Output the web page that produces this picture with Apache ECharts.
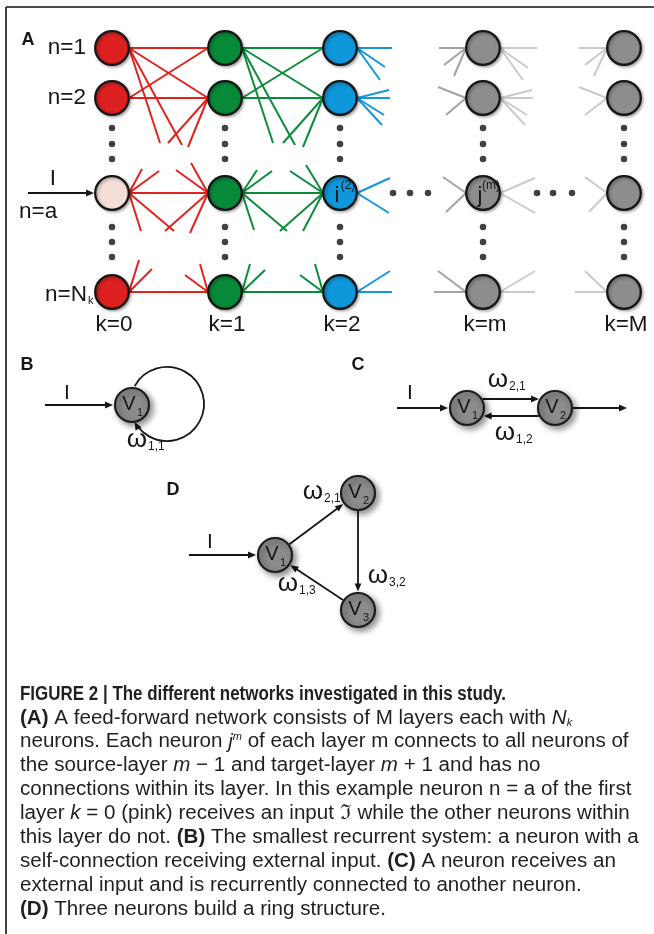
<!DOCTYPE html>
<html><head><meta charset="utf-8">
<script src="https://cdn.jsdelivr.net/npm/echarts@6/dist/echarts.min.js"></script>
<style>html,body{margin:0;padding:0;background:#fff;}#chart{width:654px;height:934px;}</style>
</head><body><div id="chart"></div>
<script>
// ================= DATA =================
// Panel A : layered feed-forward network
const layerLabels = ['k=0', 'k=1', 'k=2', 'k=m', 'k=M'];
const layerX = [112, 225, 340, 483, 624];
const rowLabels = ['n=1', 'n=2', 'n=a', 'n=N'];
const rowY = [48, 98, 193, 292];
const inputRow = 2;                              // n=a receives the input
const ellipsisY = [128, 144, 159, 227, 242, 257]; // vertical dots in every layer
const ellipsisX = [393, 410, 428, 537, 553, 572]; // horizontal dots on row n=a
// complete connections [fromLayer, fromRow, toLayer, toRow]
const links = [
  [0,0,1,0],[0,0,1,1],[0,1,1,0],[0,1,1,1],[0,2,1,2],[0,3,1,3],
  [1,0,2,0],[1,0,2,1],[1,1,2,0],[1,1,2,1],[1,2,2,2],[1,3,2,3]
];
// truncated connections [layer, row, side(+1 right,-1 left), dx, dy]
const stubs = [
  [0,0,1,31,95],[0,0,1,53,97],
  [0,2,1,13,-24],[0,2,1,30,-22],[0,2,1,12,38],[0,2,1,45,38],
  [0,3,1,10,-32],[0,3,1,23,-23],
  [1,1,-1,-40,45],[1,1,-1,-20,49],
  [1,2,-1,-32,-23],[1,2,-1,-17,-30],[1,2,-1,-43,38],[1,2,-1,-18,40],
  [1,3,-1,-23,-17],[1,3,-1,-8,-28],
  [1,0,1,31,95],[1,0,1,53,97],
  [1,2,1,15,-23],[1,2,1,30,-22],[1,2,1,12,37],[1,2,1,45,38],
  [1,3,1,8,-28],[1,3,1,23,-22],
  [2,1,-1,-40,45],[2,1,-1,-20,49],
  [2,2,-1,-33,-22],[2,2,-1,-17,-28],[2,2,-1,-43,38],[2,2,-1,-20,38],
  [2,3,-1,-23,-17],[2,3,-1,-8,-28],
  [2,0,1,35,0],[2,0,1,28,19],[2,0,1,23,32],
  [2,1,1,32,-8],[2,1,1,33,0],[2,1,1,27,17],[2,1,1,25,27],
  [2,2,1,33,-15],[2,2,1,32,20],
  [2,3,1,33,-21],[2,3,1,35,0],
  [3,0,-1,-27,0],[3,0,-1,-22,17],[3,0,-1,-12,28],
  [3,1,-1,-28,-11],[3,1,-1,-20,17],
  [3,2,-1,-23,-16],[3,2,-1,-20,19],
  [3,3,-1,-28,-21],[3,3,-1,-32,0],
  [3,0,1,37,0],[3,0,1,28,20],[3,0,1,23,32],
  [3,1,1,32,-8],[3,1,1,33,0],[3,1,1,27,17],[3,1,1,25,27],
  [3,2,1,35,-15],[3,2,1,35,20],
  [3,3,1,35,-21],[3,3,1,35,0],
  [4,0,-1,-28,0],[4,0,-1,-22,17],[4,0,-1,-13,28],
  [4,1,-1,-28,-11],[4,1,-1,-22,17],
  [4,2,-1,-22,-16],[4,2,-1,-18,19],
  [4,3,-1,-22,-21],[4,3,-1,-32,0]
];
const nodeNames = [[2, 2, 'i', '(2)'], [3, 2, 'j', '(m)']];

// Panels B, C, D : recurrent systems  [x, y, index]
const nodesB = [[132, 405, '1']];
const nodesC = [[467, 408, '1'], [555, 408, '2']];
const nodesD = [[275, 555, '1'], [358, 493, '2'], [358, 610, '3']];
const edgesC = [[0, 1, -9], [1, 0, -8]];         // [from, to, parallel offset]
const edgesD = [[0, 1, 0], [1, 2, 0], [2, 0, 0]];
const weightsB = ['1,1'];
const weightsC = ['2,1', '1,2'];
const weightsD = ['2,1', '3,2', '1,3'];

// Caption
const captionTitle = 'FIGURE 2 | The different networks investigated in this study.';
const captionLines = [
  '{b|(A)} A feed-forward network consists of M layers each with {i|N}{is|k}',
  'neurons. Each neuron {i|j}{isup|m} of each layer m connects to all neurons of',
  'the source-layer {i|m} \u2212 1 and target-layer {i|m} + 1 and has no',
  'connections within its layer. In this example neuron n = a of the first',
  'layer {i|k} = 0 (pink) receives an input \u2111 while the other neurons within',
  'this layer do not. {b|(B)} The smallest recurrent system: a neuron with a',
  'self-connection receiving external input. {b|(C)} A neuron receives an',
  'external input and is recurrently connected to another neuron.',
  '{b|(D)} Three neurons build a ring structure.'
];

// ================= STYLE =================
const FONT = '"Liberation Sans", Arial, Helvetica, sans-serif';
const BODY_FONT = '"Liberation Sans", Arial, sans-serif';
const BOLD_FONT = '"Liberation Sans Narrow", "Liberation Sans", Arial, sans-serif';
const INK = '#161616';
const CAP_INK = '#231f20';
const C = {red:'#e0241d', green:'#0a8c3b', blue:'#1597d9', midGray:'#a3a3a3', lightGray:'#cacaca'};
const layerFill = ['#dc2020', '#068a39', '#0e97db', '#8d8d8d', '#8d8d8d'];
const PINK = '#f5ddd8';
const PORT = 17;      // node edge offset in panel A
const NR = 18;        // node radius B-D
const LBL = 22.5;     // panel A label size

// fit caption font sizes to the reference line widths
const mctx = document.createElement('canvas').getContext('2d');
function textWidth(text, family, weight, size) {
  mctx.font = weight + ' ' + size + 'px ' + family;
  return mctx.measureText(text).width;
}
let BODY = 20 * 612 / textWidth('connections within its layer. In this example neuron n = a of the first', BODY_FONT, 'normal', 20);
BODY = Math.max(17, Math.min(21.5, BODY));
const TITLE = BODY;
const titleScale = Math.min(1, 486 / textWidth(captionTitle, FONT, 'bold', TITLE));

function stubColor(layer, side) {
  if (layer === 0 || (layer === 1 && side < 0)) return C.red;
  if ((layer === 1 && side > 0) || (layer === 2 && side < 0)) return C.green;
  if (layer === 2) return C.blue;
  if (layer === 3 && side < 0) return C.midGray;
  return C.lightGray;
}
function lineEl(a, b, color, lw) {
  return {type:'line', shape:{x1:a[0], y1:a[1], x2:b[0], y2:b[1]}, style:{stroke:color, lineWidth:lw}};
}
function arrowEl(a, b, color, lw) {
  const dx = b[0]-a[0], dy = b[1]-a[1], L = Math.hypot(dx, dy);
  const u = [dx/L, dy/L], n = [-u[1], u[0]];
  const hl = 8, hw = 3.4;
  const base = [b[0]-u[0]*hl, b[1]-u[1]*hl];
  return {type:'group', children:[
    lineEl(a, [b[0]-u[0]*hl*0.7, b[1]-u[1]*hl*0.7], color, lw),
    {type:'polygon', shape:{points:[[b[0],b[1]],[base[0]+n[0]*hw, base[1]+n[1]*hw],[base[0]-n[0]*hw, base[1]-n[1]*hw]]}, style:{fill:color}}
  ]};
}
function textEl(p, t, size, align, opts) {
  opts = opts || {};
  return {type:'text', x:p[0], y:p[1], style:{text:t, fontSize:size, fontFamily:FONT,
    fontWeight:opts.bold ? 'bold' : 'normal', fill:opts.color || INK, align:align || 'center', verticalAlign:'middle'}};
}

// ================= DERIVED MARK DATA =================
const linkData = links.map(l => [layerX[l[0]], rowY[l[1]], layerX[l[2]], rowY[l[3]], l[0]]);
const stubData = stubs.map(s => [layerX[s[0]], rowY[s[1]], s[2], s[3], s[4], s[0]]);
const dotData = [];
layerX.forEach(x => ellipsisY.forEach(y => dotData.push([x, y])));
ellipsisX.forEach(x => dotData.push([x, rowY[inputRow]]));
const nodeAData = [];
layerX.forEach((x, li) => rowY.forEach((y, ri) => nodeAData.push([x, y, li, ri])));

function edgeSeg(nodes, e) {
  const p = nodes[e[0]], q = nodes[e[1]];
  const dx = q[0]-p[0], dy = q[1]-p[1], L = Math.hypot(dx, dy);
  const u = [dx/L, dy/L], n = [-u[1], u[0]];
  const off = e[2], along = Math.sqrt(NR*NR - off*off);
  return [p[0]+n[0]*off+u[0]*along, p[1]+n[1]*off+u[1]*along,
          q[0]+n[0]*off-u[0]*(along+0.5), q[1]+n[1]*off-u[1]*(along+0.5)];
}
const arrowData = [
  [45, nodesB[0][1], nodesB[0][0]-NR-1, nodesB[0][1]],
  [397, nodesC[0][1], nodesC[0][0]-NR-1, nodesC[0][1]],
  [nodesC[1][0]+NR, nodesC[1][1], 627, nodesC[1][1]],
  [189, nodesD[0][1], nodesD[0][0]-NR-1, nodesD[0][1]],
  ...edgesC.map(e => edgeSeg(nodesC, e)),
  ...edgesD.map(e => edgeSeg(nodesD, e))
];
const smallNodes = [...nodesB, ...nodesC, ...nodesD];

// text items (anchored to data positions)
const texts = [];
layerLabels.forEach((t, i) => texts.push({p:[layerX[i]+2, 325], t, s:LBL}));
texts.push({p:[86, rowY[0]], t:rowLabels[0], s:LBL, a:'right'});
texts.push({p:[86, rowY[1]], t:rowLabels[1], s:LBL, a:'right'});
texts.push({p:[19, rowY[2]+19], t:rowLabels[2], s:LBL, a:'left'});
texts.push({p:[87, rowY[3]+3], t:rowLabels[3], s:LBL, a:'right'});
texts.push({p:[88, rowY[3]+9], t:'k', s:11, a:'left'});
texts.push({p:[53, rowY[inputRow]-14], t:'I', s:LBL});
nodeNames.forEach(nn => {
  texts.push({p:[layerX[nn[0]]-3, rowY[nn[1]]+3], t:nn[2], s:22});
  texts.push({p:[layerX[nn[0]]+8, rowY[nn[1]]-7], t:nn[3], s:12});
});
texts.push({p:[28, 40], t:'A', s:18, b:true});
texts.push({p:[27, 365], t:'B', s:18, b:true});
texts.push({p:[358, 365], t:'C', s:18, b:true});
texts.push({p:[173, 490], t:'D', s:18, b:true});
texts.push({p:[67, 393], t:'I', s:21});
texts.push({p:[410, 393], t:'I', s:21});
texts.push({p:[210, 542], t:'I', s:21});
smallNodes.forEach(n => {
  texts.push({p:[n[0]-3, n[1]-1], t:'V', s:20});
  texts.push({p:[n[0]+8, n[1]+8], t:n[2], s:11});
});
const omega = (x, y, sub) => {
  texts.push({p:[x, y], t:'\u03c9', s:26});
  texts.push({p:[x+11, y+7], t:sub, s:12, a:'left'});
};
omega(137, 440, weightsB[0]);
omega(498, 380, weightsC[0]);
omega(505, 433, weightsC[1]);
omega(313, 492, weightsD[0]);
omega(378, 576, weightsD[1]);
omega(288, 584, weightsD[2]);

// ================= CHART =================
const chart = echarts.init(document.getElementById('chart'), null, {width:654, height:934});
const shadowA = {shadowBlur:3, shadowColor:'rgba(0,0,0,0.3)', shadowOffsetX:1.5, shadowOffsetY:1.5};
const shadowB = {shadowBlur:6, shadowColor:'rgba(0,0,0,0.45)', shadowOffsetX:3, shadowOffsetY:3};
const capRich = {
  b:  {fontWeight:'bold', fontSize:BODY, fontFamily:BOLD_FONT, fill:CAP_INK},
  i:  {fontStyle:'italic', fontSize:BODY, fontFamily:BODY_FONT, fill:CAP_INK},
  is: {fontStyle:'italic', fontSize:11, fontFamily:BODY_FONT, fill:CAP_INK, verticalAlign:'bottom', lineHeight:11},
  isup: {fontStyle:'italic', fontSize:11, fontFamily:BODY_FONT, fill:CAP_INK, verticalAlign:'top', lineHeight:11}
};
const LINE0 = 694, LSTEP = 23.9;
const captionGraphics = [{
  type:'text', x:20, y:LINE0, scaleX:titleScale,
  style:{text:captionTitle, fontSize:TITLE, fontWeight:'bold', fontFamily:FONT, fill:CAP_INK, verticalAlign:'middle'}
}].concat(captionLines.map((line, i) => ({
  type:'text', x:20, y:LINE0 + (i+1)*LSTEP,
  style:{text:line, fontSize:BODY, fontFamily:BODY_FONT, fill:CAP_INK, lineHeight:21, verticalAlign:'middle', rich:capRich}
})));

chart.setOption({
  animation:false,
  grid:{left:0, right:0, top:0, bottom:0},
  xAxis:{type:'value', min:0, max:654, show:false},
  yAxis:{type:'value', min:0, max:934, inverse:true, show:false},
  graphic: captionGraphics,
  series:[
    { // frame
      type:'custom', coordinateSystem:'cartesian2d', silent:true,
      data:[[6,7,654,7],[6,7,6,934]],
      renderItem:(p, api) => lineEl(api.coord([api.value(0), api.value(1)]), api.coord([api.value(2), api.value(3)]), '#111', 1.6)
    },
    { // full links
      type:'custom', coordinateSystem:'cartesian2d', silent:true, data:linkData,
      renderItem:(p, api) => lineEl(api.coord([api.value(0)+PORT, api.value(1)]), api.coord([api.value(2)-PORT, api.value(3)]),
        api.value(4) === 0 ? C.red : C.green, 2)
    },
    { // truncated links
      type:'custom', coordinateSystem:'cartesian2d', silent:true, data:stubData,
      renderItem:(p, api) => {
        const x = api.value(0)+api.value(2)*PORT, y = api.value(1);
        return lineEl(api.coord([x, y]), api.coord([x+api.value(3), y+api.value(4)]), stubColor(api.value(5), api.value(2)), 2);
      }
    },
    { // ellipsis dots
      type:'scatter', silent:true, data:dotData, symbol:'circle', symbolSize:6.5, itemStyle:{color:'#111'}
    },
    { // nodes of panel A
      type:'custom', coordinateSystem:'cartesian2d', silent:true, data:nodeAData,
      renderItem:(p, api) => {
        const c = api.coord([api.value(0), api.value(1)]);
        const li = api.value(2), ri = api.value(3);
        const fill = (li === 0 && ri === inputRow) ? PINK : layerFill[li];
        return {type:'circle', shape:{cx:c[0], cy:c[1], r:16.8}, style:Object.assign({fill, stroke:INK, lineWidth:2.3}, shadowA)};
      }
    },
    { // input arrow of panel A
      type:'custom', coordinateSystem:'cartesian2d', silent:true,
      data:[[28, rowY[inputRow], layerX[0]-PORT-1, rowY[inputRow]]],
      renderItem:(p, api) => arrowEl(api.coord([api.value(0), api.value(1)]), api.coord([api.value(2), api.value(3)]), INK, 1.8)
    },
    { // arrows B-D
      type:'custom', coordinateSystem:'cartesian2d', silent:true, data:arrowData,
      renderItem:(p, api) => arrowEl(api.coord([api.value(0), api.value(1)]), api.coord([api.value(2), api.value(3)]), INK, 1.8)
    },
    { // self loop of panel B
      type:'custom', coordinateSystem:'cartesian2d', silent:true,
      data:[[nodesB[0][0]+35, nodesB[0][1]-1, 37]],
      renderItem:(p, api) => {
        const c = api.coord([api.value(0), api.value(1)]);
        const r = api.size([api.value(2), 0])[0];
        const a0 = 209*Math.PI/180, a1 = (151+360)*Math.PI/180;
        const tip = [c[0]+r*Math.cos(a1), c[1]+r*Math.sin(a1)];
        const t = [-Math.sin(a1), Math.cos(a1)], n = [-t[1], t[0]];
        const hl = 8, hw = 3.4, base = [tip[0]-t[0]*hl, tip[1]-t[1]*hl];
        return {type:'group', children:[
          {type:'arc', shape:{cx:c[0], cy:c[1], r, startAngle:a0, endAngle:a1-0.15, clockwise:true}, style:{stroke:INK, lineWidth:1.8, fill:null}},
          {type:'polygon', shape:{points:[tip, [base[0]+n[0]*hw, base[1]+n[1]*hw], [base[0]-n[0]*hw, base[1]-n[1]*hw]]}, style:{fill:INK}}
        ]};
      }
    },
    { // nodes B-D
      type:'custom', coordinateSystem:'cartesian2d', silent:true, data:smallNodes.map(n => [n[0], n[1]]),
      renderItem:(p, api) => {
        const c = api.coord([api.value(0), api.value(1)]);
        return {type:'circle', shape:{cx:c[0], cy:c[1], r:NR-1}, style:Object.assign({fill:'#8c8c8c', stroke:'#1c1c1c', lineWidth:2.2}, shadowB)};
      }
    },
    { // texts
      type:'custom', coordinateSystem:'cartesian2d', silent:true, data:texts.map(o => o.p),
      renderItem:(p, api) => {
        const o = texts[p.dataIndex];
        return textEl(api.coord([api.value(0), api.value(1)]), o.t, o.s, o.a, {bold:o.b});
      }
    }
  ]
});
</script></body></html>
